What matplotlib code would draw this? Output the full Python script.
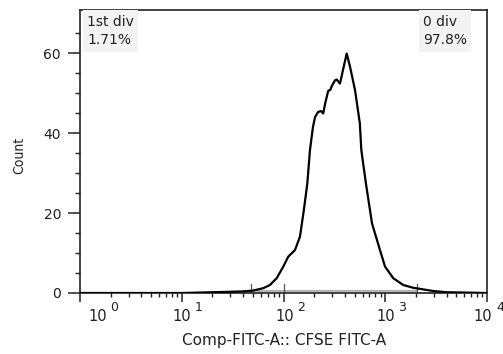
import matplotlib
matplotlib.use("Agg")
import matplotlib.pyplot as plt
from matplotlib.ticker import FixedLocator, NullFormatter

# histogram trace (CFSE intensity, event count)
intensity = [1, 10, 29.5, 39.8, 50.1, 63.1, 73.6, 85.7, 99.5, 111.4, 129.7,
             145.2, 158.5, 171.4, 182.0, 195.0, 204.2, 218.8, 234.4, 245.5,
             257.0, 275.4, 288.4, 298.5, 320.6, 333.4, 358.9, 417.8, 450.8,
             504.7, 562.3, 582.1, 645.7, 741.3, 887.2, 995.4, 1199, 1503,
             1888, 2366, 2951, 3981, 10000]
count = [0, 0, 0.3, 0.4, 0.6, 1.2, 2.0, 3.7, 6.6, 9.1, 10.75,
         14.1, 20.75, 27.4, 35.75, 41.6, 44.0, 45.3, 45.5, 44.9,
         47.5, 50.6, 50.8, 51.8, 53.2, 53.4, 52.4, 59.9, 56.6,
         50.75, 42.5, 35.75, 27.4, 17.4, 10.75, 6.6, 3.7, 2.0,
         1.3, 0.9, 0.5, 0.2, 0]

# gates: "1st div" and "0 div"
gate_edges = [48, 100, 2050]
gate_names = ["1st div", "0 div"]
gate_pcts = ["1.71%", "97.8%"]

yticks = [0, 20, 40, 60]
decades = [0, 1, 2, 3, 4]

INK = "#222222"

fig = plt.figure(figsize=(5.03, 3.54), dpi=100)
ax = fig.add_axes([80 / 503, 1 - 293 / 354, 407 / 503, 283 / 354])

ax.plot([gate_edges[0], gate_edges[-1]], [0.55, 0.55], color="#b4b4b4", lw=1.6, zorder=2)
for g in gate_edges:
    ax.plot([g, g], [0, 2.3], color="#555555", lw=0.9, zorder=2)
ax.plot(intensity, count, color="black", lw=1.6, zorder=3,
        solid_joinstyle="round")

ax.set_xscale("log")
ax.set_xlim(1, 1e4)
ax.set_ylim(0, 70.8)

for s in ax.spines.values():
    s.set_linewidth(1.2)
    s.set_color(INK)

ax.yaxis.set_major_locator(FixedLocator(yticks))
ax.yaxis.set_minor_locator(FixedLocator(range(0, 70, 5)))
ax.tick_params(axis="y", which="major", direction="out", length=8.6, width=1.1,
               pad=5, labelsize=10, colors=INK)
ax.tick_params(axis="y", which="minor", direction="out", length=3.6, width=1.0,
               color=INK)
ax.tick_params(axis="x", which="major", direction="out", length=6.5, width=1.1,
               color=INK)
ax.tick_params(axis="x", which="minor", direction="out", length=3.0, width=1.0,
               color=INK)
ax.xaxis.set_major_locator(FixedLocator([10 ** d for d in decades]))
ax.xaxis.set_major_formatter(NullFormatter())

# decade labels: "10" with a raised exponent
nudge = [17.5, 0, 1, 0, -4]
for d, n in zip(decades, nudge):
    ax.annotate("10", xy=(10 ** d, 0), xycoords=("data", "axes fraction"),
                xytext=(n / 1.389, -20.3), textcoords="offset points",
                ha="center", va="baseline", fontsize=10.5, color=INK,
                annotation_clip=False)
    ax.annotate(str(d), xy=(10 ** d, 0), xycoords=("data", "axes fraction"),
                xytext=((n + 13) / 1.389, -13.3), textcoords="offset points",
                ha="left", va="baseline", fontsize=9, color=INK,
                annotation_clip=False)

box = dict(facecolor="#f3f3f3", edgecolor="none", pad=3)
ax.text(0.018, 0.984, gate_names[0] + "\n" + gate_pcts[0], transform=ax.transAxes,
        ha="left", va="top", fontsize=10, linespacing=1.45, color=INK, bbox=box)
ax.text(0.843, 0.984, gate_names[1] + "\n" + gate_pcts[1], transform=ax.transAxes,
        ha="left", va="top", fontsize=10, linespacing=1.45, color=INK, bbox=box)

fig.text(284 / 503, 1 - 340 / 354, "Comp-FITC-A:: CFSE FITC-A", ha="center",
         va="center", fontsize=11, color=INK)
fig.text(19 / 503, 1 - 155 / 354, "Count", rotation=90, ha="center", va="center",
         fontsize=10, color=INK, family="DejaVu Sans", fontstretch="condensed")

fig.savefig("out.png", dpi=100)
